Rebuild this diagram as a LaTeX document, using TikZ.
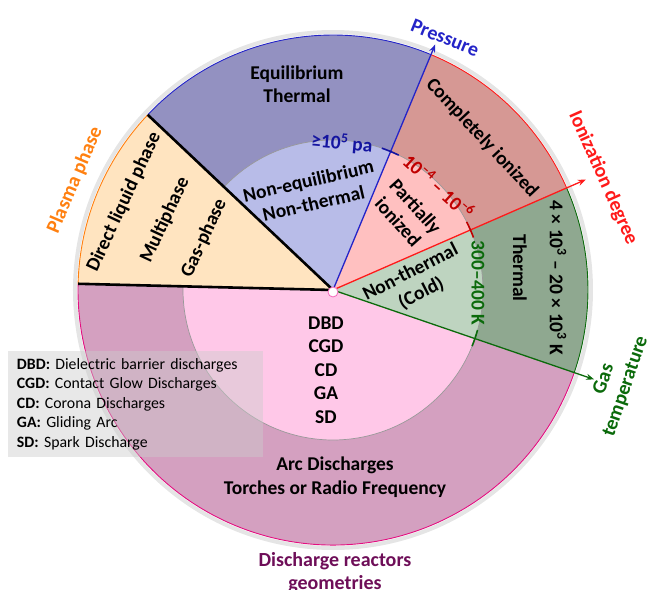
\documentclass[tikz,border=0pt]{standalone}
\usepackage{fontspec}
\setmainfont{Carlito}
\usetikzlibrary{arrows.meta}

\definecolor{blueout}{HTML}{9391C1}
\definecolor{bluein}{HTML}{B8BCE8}
\definecolor{redout}{HTML}{D69894}
\definecolor{redin}{HTML}{FFC0C0}
\definecolor{greenout}{HTML}{8FA890}
\definecolor{greenin}{HTML}{BED4C0}
\definecolor{pinkout}{HTML}{D4A0C0}
\definecolor{pinkin}{HTML}{FFC8E8}
\definecolor{orangefill}{HTML}{FFE4C0}
\definecolor{presscol}{HTML}{2424C8}
\definecolor{ioncol}{HTML}{FF1A1A}
\definecolor{gascol}{HTML}{0B6A0B}
\definecolor{phasecol}{HTML}{FF8010}
\definecolor{reactcol}{HTML}{6E0E58}
\definecolor{darkred}{HTML}{C00000}
\definecolor{darkblue}{HTML}{1414A0}

\begin{document}
\begin{tikzpicture}[x=1pt,y=1pt,
  lbl/.style={font=\bfseries\fontsize{19.5}{23.5}\selectfont, align=center, text=black},
  axislbl/.style={font=\bfseries\fontsize{20}{23}\selectfont, align=center},
  axis/.style={line width=1.3pt, -{Stealth[length=8pt,width=6pt]}},
  rim/.style={line width=0.9pt},
  sep/.style={line width=2.6pt, black},
  rangemark/.style={line width=1.6pt}]
\useasboundingbox (-333,-300) rectangle (316,290);
\def\R{255}
\def\r{150}

% faint shadow round the wheel
\draw[black!10, line width=4pt] (0,0) circle (258);

\coordinate (c) at (0,0);

% outer ring
\fill[blueout] (c) -- (136.6:\R) arc[start angle=136.6, end angle=67.4, radius=\R] -- cycle;
\fill[redout] (c) -- (67.4:\R) arc[start angle=67.4, end angle=23.6, radius=\R] -- cycle;
\fill[greenout] (c) -- (23.6:\R) arc[start angle=23.6, end angle=-18.9, radius=\R] -- cycle;
\fill[pinkout] (c) -- (-18.9:\R) arc[start angle=-18.9, end angle=-181.4, radius=\R] -- cycle;
\fill[orangefill] (c) -- (178.6:\R) arc[start angle=178.6, end angle=136.6, radius=\R] -- cycle;

% inner ring
\fill[bluein] (c) -- (136.6:\r) arc[start angle=136.6, end angle=67.4, radius=\r] -- cycle;
\fill[redin] (c) -- (67.4:\r) arc[start angle=67.4, end angle=23.6, radius=\r] -- cycle;
\fill[greenin] (c) -- (23.6:\r) arc[start angle=23.6, end angle=-18.9, radius=\r] -- cycle;
\fill[pinkin] (c) -- (-18.9:\r) arc[start angle=-18.9, end angle=-181.4, radius=\r] -- cycle;
\draw[black!40, line width=0.7pt] (136.6:\r) arc[start angle=136.6, end angle=-181.4, radius=\r];

% coloured rims
\draw[rim, presscol] (136.6:\R) arc[start angle=136.6, end angle=67.4, radius=\R];
\draw[rim, ioncol] (67.4:\R) arc[start angle=67.4, end angle=23.6, radius=\R];
\draw[rim, gascol] (23.6:\R) arc[start angle=23.6, end angle=-18.9, radius=\R];
\draw[rim, magenta!80!purple] (-18.9:\R) arc[start angle=-18.9, end angle=-181.4, radius=\R];
\draw[rim, phasecol] (178.6:\R) arc[start angle=178.6, end angle=136.6, radius=\R];

% separators of the phase sector
\coordinate (ph1) at (136.6:\R);
\coordinate (ph2) at (178.6:\R);
\draw[sep] (c) -- (ph1);
\draw[sep] (c) -- (ph2);

% axes
\coordinate (pr) at (67.4:266);
\coordinate (io) at (23.6:276);
\coordinate (gt) at (-18.9:276);
\draw[axis, presscol] (c) -- (pr);
\draw[axis, ioncol] (c) -- (io);
\draw[axis, gascol] (c) -- (gt);

% range marks on the inner circle
\draw[rangemark, darkblue] (71:\r) arc[start angle=71, end angle=64, radius=\r];
\draw[rangemark, darkred] (27:\r) arc[start angle=27, end angle=20.5, radius=\r];
\draw[rangemark, gascol] (-15.5:\r) arc[start angle=-15.5, end angle=-22, radius=\r];

% hub
\draw[magenta!60, fill=white, line width=0.8pt] (0,-2) circle (5);

% axis names
\node[axislbl, presscol, rotate=-22] (pressure) at (112,252) {Pressure};
\node[axislbl, ioncol, rotate=-66] (ionization) at (270,112) {Ionization degree};
\node[axislbl, gascol, rotate=71] (gastemp) at (282,-93) {Gas\\temperature};
\node[axislbl, phasecol, rotate=67] (plasmaphase) at (-258,110) {Plasma phase};
\node[axislbl, reactcol] (reactors) at (2,-283) {Discharge reactors\\geometries};

% pressure sector
\node[lbl] (equil) at (-36,206) {Equilibrium\\Thermal};
\node[lbl, rotate=13] (noneq) at (-22,98) {Non-equilibrium\\Non-thermal};
\node[lbl, text=darkblue, rotate=-5] (press) at (9,147) {≥10\textsuperscript{5} pa};

% ionization sector
\node[lbl, rotate=-47] (complete) at (149,152) {Completely ionized};
\node[lbl, rotate=-48] (partial) at (74,76) {Partially\\ionized};
\node[lbl, text=darkred, rotate=-42] (ionrange) at (106,104) {10\textsuperscript{–4} – 10\textsuperscript{–6}};

% gas temperature sector
\node[lbl, rotate=-90] (hot) at (225,12) {4 × 10\textsuperscript{3} – 20 × 10\textsuperscript{3} K};
\node[lbl, rotate=-90] (thermal) at (187,22) {Thermal};
\node[lbl, text=gascol, rotate=-90] (cold) at (145,7) {300–400 K};
\node[lbl, rotate=27] (nonthermal) at (83,7) {Non-thermal\\(Cold)};

% phase sector
\node[lbl, rotate=65] (liquid) at (-209,88) {Direct liquid phase};
\node[lbl, rotate=65] (multi) at (-168,70) {Multiphase};
\node[lbl, rotate=65] (gasph) at (-129,52) {Gas-phase};

% reactor sector
\node[lbl] (types) at (-7,-80) {DBD\\CGD\\CD\\GA\\SD};
\node[lbl] (arc) at (2,-187) {Arc Discharges\\Torches or Radio Frequency};

% key
\node[fill=black!20, fill opacity=0.45, text opacity=1, minimum width=255pt, minimum height=106pt,
  text width=237pt, align=left, font=\fontsize{15.8}{19.5}\selectfont] (key) at (-197.5,-114)
  {\textbf{DBD:} Dielectric barrier discharges\\
   \textbf{CGD:} Contact Glow Discharges\\
   \textbf{CD:} Corona Discharges\\
   \textbf{GA:} Gliding Arc\\
   \textbf{SD:} Spark Discharge};
\end{tikzpicture}
\end{document}
